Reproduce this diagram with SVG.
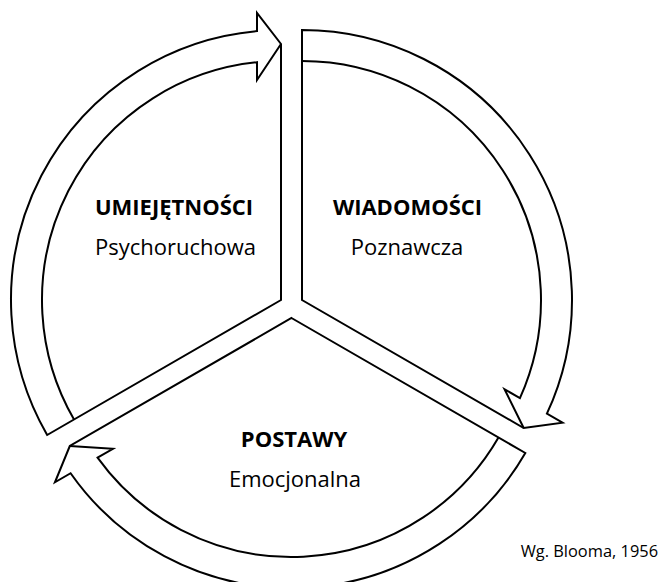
<svg xmlns="http://www.w3.org/2000/svg" width="662" height="582" viewBox="0 0 662 582">
<style>
.shape{fill:#ffffff;stroke:#000000;stroke-width:2;stroke-linejoin:miter}
.line{fill:none;stroke:#000000;stroke-width:2;stroke-linejoin:miter}
.title{font-family:"Open Sans","Liberation Sans",sans-serif;font-weight:bold;font-size:22px;text-anchor:middle;fill:#000}
.sub{font-family:"Open Sans","Liberation Sans",sans-serif;font-size:22px;text-anchor:middle;fill:#000}
.note{font-family:"Open Sans","Liberation Sans",sans-serif;font-size:16.4px;text-anchor:end;fill:#000}
</style>
<rect width="662" height="582" fill="#ffffff"/>
<g id="umiejetnosci">
<path class="shape" d="M281,300 L47.17,435 A270,270 0 0 1 257,31.07 L257,13 L281,44 Z"/>
<path class="line" d="M74.02,419.5 A239,239 0 0 1 257,62.21 L257,80 L281,44"/>
<text class="title" x="174" y="215">UMIEJĘTNOŚCI</text>
<text class="sub" x="175.5" y="255">Psychoruchowa</text>
</g>
<g id="wiadomosci">
<path class="shape" d="M302,300 L302,30 A270,270 0 0 1 546.90,413.68 L562.55,422.72 L523.70,428 Z"/>
<path class="line" d="M302,61 A239,239 0 0 1 519.93,398.11 L504.53,389.22 L523.70,428"/>
<text class="title" x="407.5" y="215">WIADOMOŚCI</text>
<text class="sub" x="407" y="255">Poznawcza</text>
</g>
<g id="postawy">
<path class="shape" d="M291.5,318 L525.33,453 A270,270 0 0 1 70.60,473.25 L54.95,482.28 L69.80,446 Z"/>
<path class="line" d="M498.48,437.5 A239,239 0 0 1 97.57,457.68 L112.97,448.78 L69.80,446"/>
<text class="title" x="294" y="447">POSTAWY</text>
<text class="sub" x="295" y="487">Emocjonalna</text>
</g>
<g id="connectors"></g>
<g id="source">
<text class="note" x="658" y="557">Wg. Blooma, 1956</text>
</g>
</svg>
